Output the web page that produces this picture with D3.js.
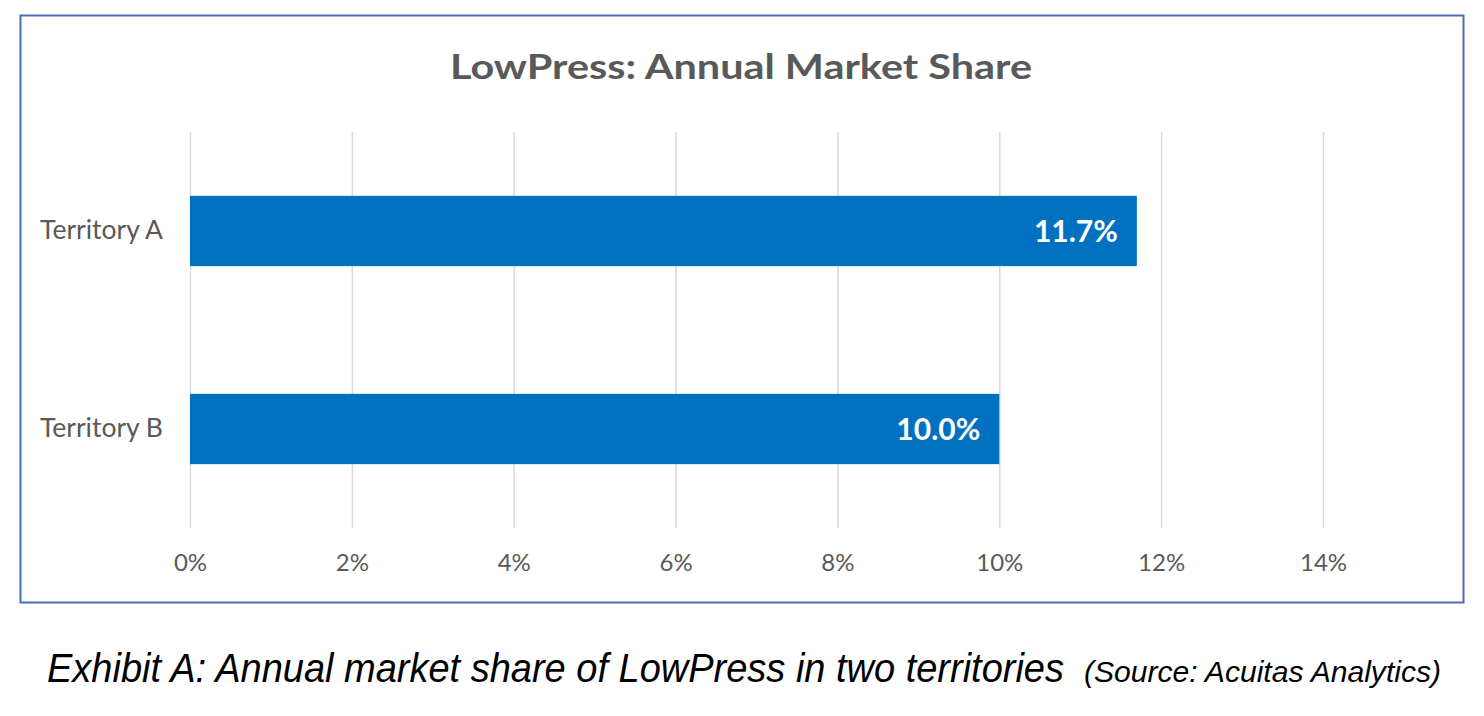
<!DOCTYPE html>
<html><head><meta charset="utf-8">
<script src="https://cdn.jsdelivr.net/npm/d3@7"></script>
<style>body{margin:0;background:#fff}svg{display:block}</style>
</head><body>
<script>
const categories = ["Territory A", "Territory B"];
const values = [11.7, 10.0];
const tickValues = [0, 2, 4, 6, 8, 10, 12, 14];
const titleText = "LowPress: Annual Market Share";
const captionMain = "Exhibit A: Annual market share of LowPress in two territories";
const captionSource = "(Source: Acuitas Analytics)";

const W = 1484, H = 716;
const svg = d3.select("body").append("svg").attr("width", W).attr("height", H);

// chart frame
svg.append("rect").attr("x", 20.5).attr("y", 15.5).attr("width", 1443).attr("height", 587)
  .attr("fill", "#fff").attr("stroke", "#4a6db3").attr("stroke-width", 2);

const x = d3.scaleLinear().domain([0, 14]).range([190, 1323]);
const y = d3.scaleBand().domain(categories).range([132, 528]).paddingInner(0.645).paddingOuter(0.3225);

// gridlines
svg.append("g").selectAll("line").data(tickValues).join("line")
  .attr("x1", d => x(d) + 0.5).attr("x2", d => x(d) + 0.5)
  .attr("y1", 132).attr("y2", 528)
  .attr("stroke", "#d9d9d9").attr("stroke-width", 1.5);

// x axis labels
const xAxis = d3.axisBottom(x).tickValues(tickValues).tickFormat(d => d + "%").tickSize(0).tickPadding(0);
const gx = svg.append("g").attr("transform", "translate(0,554)").call(xAxis);
gx.select(".domain").remove();
gx.selectAll("text").attr("fill", "#595959").style("font-family", "Lato, 'Open Sans', sans-serif").style("font-size", "24px");

// y axis labels
const yAxis = d3.axisLeft(y).tickSize(0).tickPadding(27);
const gy = svg.append("g").attr("transform", "translate(190,0)").call(yAxis);
gy.select(".domain").remove();
gy.selectAll("text").attr("fill", "#595959").style("font-family", "Lato, 'Open Sans', sans-serif").style("font-size", "26.5px");

// bars
svg.append("g").selectAll("rect").data(values).join("rect")
  .attr("x", x(0)).attr("y", (d, i) => y(categories[i]))
  .attr("width", d => x(d) - x(0)).attr("height", y.bandwidth())
  .attr("fill", "#0070c0");

// data labels
svg.append("g").selectAll("text").data(values).join("text")
  .attr("x", d => x(d) - 19).attr("y", (d, i) => y(categories[i]) + y.bandwidth() / 2)
  .attr("dy", "0.36em").attr("text-anchor", "end")
  .attr("fill", "#fff").style("font-family", "Lato, 'Open Sans', sans-serif")
  .style("font-weight", "bold").style("font-size", "30px")
  .text(d => d.toFixed(1) + "%");

// title
svg.append("text").attr("x", 741).attr("y", 79).attr("text-anchor", "middle")
  .attr("fill", "#595959").style("font-family", "Lato, 'Open Sans', sans-serif")
  .style("font-weight", "bold").style("font-size", "34px")
  .attr("textLength", 582).attr("lengthAdjust", "spacingAndGlyphs")
  .text(titleText);

// caption
svg.append("text").attr("x", 47).attr("y", 682)
  .attr("fill", "#000").style("font-family", "'Liberation Sans', Arial, sans-serif")
  .style("font-style", "italic").style("font-size", "40px")
  .attr("textLength", 1017).attr("lengthAdjust", "spacingAndGlyphs")
  .text(captionMain);
svg.append("text").attr("x", 1084).attr("y", 682)
  .attr("fill", "#000").style("font-family", "'Liberation Sans', Arial, sans-serif")
  .style("font-style", "italic").style("font-size", "29px")
  .attr("textLength", 357).attr("lengthAdjust", "spacingAndGlyphs")
  .text(captionSource);
</script>
</body></html>
